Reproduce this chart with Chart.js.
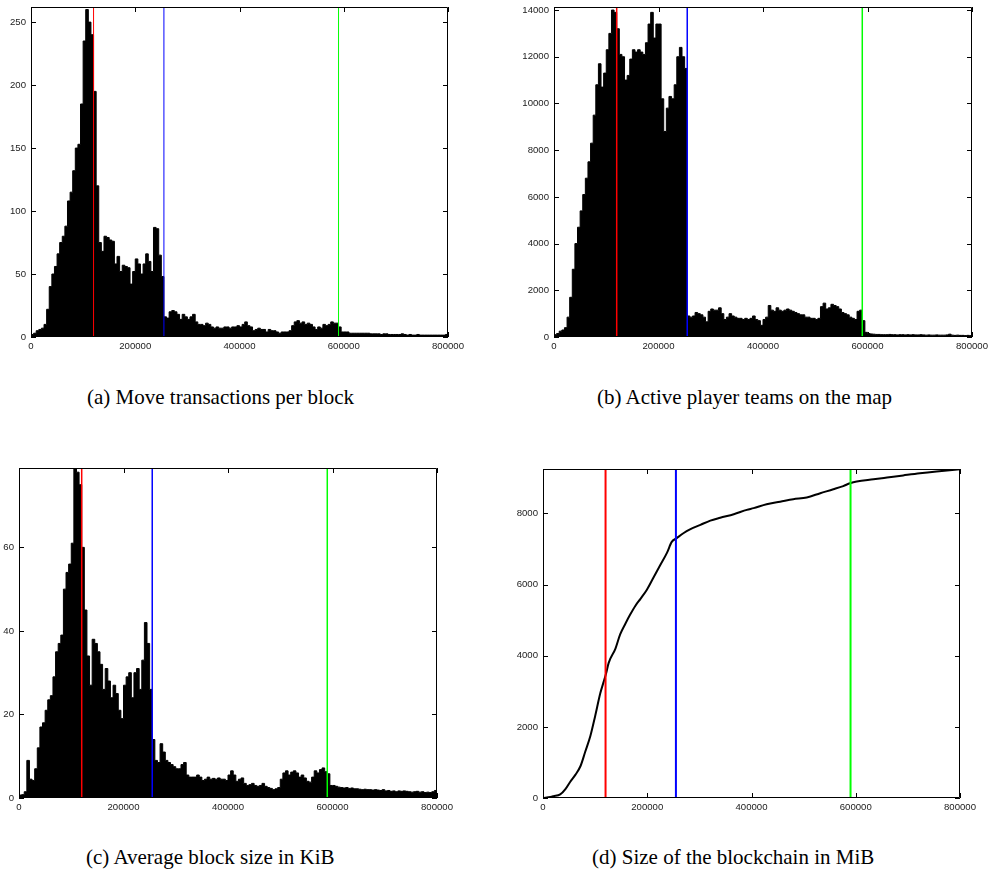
<!DOCTYPE html>
<html><head><meta charset="utf-8">
<script src="https://cdn.jsdelivr.net/npm/chart.js@4/dist/chart.umd.min.js"></script>
<style>
html,body{margin:0;padding:0;background:#fff;}
#page{position:relative;width:990px;height:871px;overflow:hidden;background:#fff;}
canvas{position:absolute;}
.cap{position:absolute;font-family:"Liberation Serif","Times New Roman",serif;font-size:21px;line-height:21px;color:#000;white-space:nowrap;}
</style></head><body>
<div id="page">
<canvas id="ca" width="495" height="380" style="left:0px;top:0px"></canvas>
<canvas id="cb" width="495" height="380" style="left:495px;top:0px"></canvas>
<canvas id="cc" width="495" height="400" style="left:0px;top:440px"></canvas>
<canvas id="cd" width="495" height="400" style="left:495px;top:440px"></canvas>
<div class="cap" style="left:87px;top:387px">(a) Move transactions per block</div>
<div class="cap" style="left:597px;top:387px">(b) Active player teams on the map</div>
<div class="cap" style="left:86px;top:847px">(c) Average block size in KiB</div>
<div class="cap" style="left:592px;top:847px">(d) Size of the blockchain in MiB</div>
</div>
<script>
// ---- data ----
const BIN = 5000; // histogram bin width (blocks)
const xTickValues = [0, 200000, 400000, 600000, 800000];
const yTicksA = [0, 50, 100, 150, 200, 250];
const yTicksB = [0, 2000, 4000, 6000, 8000, 10000, 12000, 14000];
const yTicksC = [0, 20, 40, 60];
const yTicksD = [0, 2000, 4000, 6000, 8000];
const markerBlocks = [120000, 255000, 590000];
const markerColors = ['#ff0000', '#0000ff', '#00ff00'];

// (a) move transactions per block, bins of 5000 blocks from 0
const moveTx = [2,3,5,6,7,10,22,40,50,56,66,75,80,88,108,115,132,150,153,185,
  235,260,250,240,195,120,75,68,80,79,77,76,58,64,52,57,56,55,42,52,
  62,58,50,58,66,60,52,87,86,65,48,16,15,20,21,20,18,14,18,16,
  14,16,18,12,10,10,9,11,10,8,7,8,7,7,8,8,7,8,8,9,
  8,10,12,9,8,5,6,7,6,6,4,6,5,5,4,3,4,4,4,5,
  9,12,13,11,12,10,11,10,8,6,8,7,10,9,10,12,11,11,8,4,
  4,4,3,3,3,3,3,3,3,3,2.5,2.5,2.5,2.5,2,2.5,2.5,2,2,2,
  2,2,2.5,2,1.5,2,1.5,1.5,2,1.5,1.5,1.5,1.5,1.5,1.5,1.5,1.5,1.5,1.5,2];

// (b) active player teams on the map
const activeTeams = [100,150,250,300,400,850,1700,2900,4000,4700,5400,6100,6800,7500,8300,9500,10800,11700,10700,11300,
  12300,13000,14000,13900,13200,12100,12000,11000,11200,11900,12300,12200,12300,12200,12100,12600,13400,13900,12800,13400,
  13400,10200,8800,9800,10300,10200,10800,12000,12400,12000,11500,900,850,900,1050,1000,950,850,650,1100,
  1200,1150,1150,1250,1000,750,850,1000,900,850,800,800,750,800,750,800,900,750,700,500,
  750,850,1350,1150,1100,1250,1150,1100,1150,1200,1150,1100,1050,1000,950,950,850,850,800,800,
  750,800,1300,1450,1200,1250,1400,1350,1300,1200,1050,1000,950,850,800,750,1100,1150,700,200,
  150,130,120,110,110,100,100,100,110,100,100,90,100,100,90,100,90,100,90,90,
  100,90,80,90,80,80,90,80,80,80,90,120,80,70,80,70,70,60,70,60];

// (c) average block size in KiB
const blockSize = [0.7,0.8,1.5,9,4.5,4.2,7,12,17,18,21,23.5,24.5,29,35,37,39,50,54,56,
  61,79,78,75,60,45,34,27,38,37,35,32,26,31,28,24,27,25,21,19,
  27,29,30,24,30,31,26,33,42,37,26,14,9,8.5,13,11,9,8.5,8,7.5,
  7,7,8,8.5,5.5,5,5,5,5.5,5,4.2,4.5,5,4.5,4.7,4.5,4.8,4.5,4.5,4.2,
  5.5,6.5,5.5,4,4.5,4.8,3.5,3,3.2,3.5,3,2.8,3,3.5,2.8,2.5,2.3,2,2.2,2.5,
  4.5,6,6.5,5.5,6.2,6.5,6,5,5.5,4.8,4,3.8,5,6.5,6,6.8,7.2,6.3,5.8,3,
  3,2.8,2.6,2.5,2.4,2.5,2.3,2.4,2.2,2.2,2.1,2.0,2.1,2.0,2.0,1.9,2.0,1.9,1.8,2.0,
  1.7,1.8,1.6,1.7,1.5,1.7,1.6,1.7,1.6,1.5,1.4,1.5,1.6,1.4,1.5,1.3,1.4,1.3,1.5,1.8];

// (d) size of the blockchain in MiB
const chainBlocks = [0,14000,20000,33000,43000,52000,62000,72000,81000,91000,100000,110000,116000,121000,126000,
  139000,148000,158000,167000,177000,187000,199000,212000,225000,238000,247000,256000,270000,282000,302000,
  321000,340000,366000,391000,404000,429000,455000,480000,506000,532000,557000,576000,589000,602000,634000,
  660000,691000,723000,755000,800000];
const chainMiB = [0,30,50,100,250,450,650,900,1300,1750,2300,2950,3250,3500,3800,
  4200,4600,4900,5150,5400,5600,5850,6200,6550,6900,7200,7300,7450,7550,7680,
  7800,7880,7980,8100,8150,8260,8330,8400,8450,8570,8680,8770,8850,8900,8960,
  9010,9070,9130,9180,9240];

// ---- helpers ----
function histPoints(vals) {
  const pts = vals.map((v, i) => ({x: i * BIN, y: v}));
  pts.push({x: vals.length * BIN, y: vals[vals.length - 1]});
  return pts;
}

const framePlugin = {
  id: 'frame',
  afterDatasetsDraw(chart) {
    const {ctx, chartArea: a, scales} = chart;
    const L = Math.round(a.left), R = Math.round(a.right), T = Math.round(a.top), B = Math.round(a.bottom);
    ctx.save();
    ctx.strokeStyle = '#000';
    ctx.lineWidth = 1;
    ctx.beginPath();
    ctx.rect(L + 0.5, T + 0.5, R - L - 1, B - T - 1);
    ctx.stroke();
    const len = 5;
    ctx.beginPath();
    scales.x.ticks.forEach(t => {
      const px = Math.round(scales.x.getPixelForValue(t.value)) + 0.5;
      ctx.moveTo(px, B); ctx.lineTo(px, B - len);
      ctx.moveTo(px, T); ctx.lineTo(px, T + len);
    });
    scales.y.ticks.forEach(t => {
      const py = Math.round(scales.y.getPixelForValue(t.value)) + 0.5;
      ctx.moveTo(L, py); ctx.lineTo(L + len, py);
      ctx.moveTo(R, py); ctx.lineTo(R - len, py);
    });
    ctx.stroke();
    ctx.restore();
  }
};

const panels = [
  {id: 'ca', cx: 0, cy: 0, cw: 495, ch: 380, L: 31, R: 448, T: 7, B: 337, yw: 30, ymax: 262, yticks: yTicksA, vals: moveTx, lw: 1},
  {id: 'cb', cx: 495, cy: 0, cw: 495, ch: 380, L: 554, R: 972, T: 7, B: 337, yw: 45, ymax: 14130, yticks: yTicksB, vals: activeTeams, lw: 1.5},
  {id: 'cc', cx: 0, cy: 440, cw: 495, ch: 400, L: 19, R: 437, T: 468, B: 798, yw: 18, ymax: 79, yticks: yTicksC, vals: blockSize, lw: 1.5},
  {id: 'cd', cx: 495, cy: 440, cw: 495, ch: 400, L: 543, R: 960, T: 469, B: 798, yw: 45, ymax: 9250, yticks: yTicksD, vals: null, lw: 2}
];

const XH = 25;
const tickFont = {family: '"Liberation Sans", Arial, Helvetica, sans-serif', size: 9.6};

panels.forEach(p => {
  const datasets = [];
  markerBlocks.forEach((mx, i) => {
    datasets.push({
      type: 'line',
      data: [{x: mx, y: 0}, {x: mx, y: p.ymax}],
      borderColor: markerColors[i],
      borderWidth: p.lw,
      pointRadius: 0,
      fill: false,
      order: 0
    });
  });
  if (p.vals) {
    datasets.push({
      type: 'line',
      data: histPoints(p.vals),
      stepped: 'before',
      borderColor: '#000',
      backgroundColor: '#000',
      borderWidth: 1,
      pointRadius: 0,
      fill: 'origin',
      order: 1
    });
  } else {
    datasets.push({
      type: 'line',
      data: chainBlocks.map((b, i) => ({x: b, y: chainMiB[i]})),
      borderColor: '#000',
      borderWidth: 2,
      pointRadius: 0,
      fill: false,
      cubicInterpolationMode: 'monotone',
      order: 1
    });
  }
  new Chart(document.getElementById(p.id), {
    type: 'line',
    data: {datasets},
    plugins: [framePlugin],
    options: {
      responsive: false,
      animation: false,
      events: [],
      layout: {
        autoPadding: false,
        padding: {
          left: p.L - p.cx - p.yw,
          top: p.T - p.cy,
          right: p.cx + p.cw - p.R,
          bottom: p.cy + p.ch - p.B - XH
        }
      },
      plugins: {legend: {display: false}, tooltip: {enabled: false}},
      scales: {
        x: {
          type: 'linear', min: 0, max: 800000,
          grid: {display: false, drawTicks: false},
          border: {display: false},
          afterBuildTicks: s => { s.ticks = xTickValues.map(v => ({value: v})); },
          ticks: {font: tickFont, color: '#222', padding: 4, maxRotation: 0, autoSkip: false,
                  callback: v => String(v)},
          afterFit: s => { s.height = XH; s.paddingLeft = 0; s.paddingRight = 0; }
        },
        y: {
          type: 'linear', min: 0, max: p.ymax,
          grid: {display: false, drawTicks: false},
          border: {display: false},
          afterBuildTicks: s => { s.ticks = p.yticks.map(v => ({value: v})); },
          ticks: {font: tickFont, color: '#222', padding: 5, autoSkip: false,
                  callback: v => String(v)},
          afterFit: s => { s.width = p.yw; s.paddingTop = 0; s.paddingBottom = 0; }
        }
      }
    }
  });
});
</script>
</body></html>
